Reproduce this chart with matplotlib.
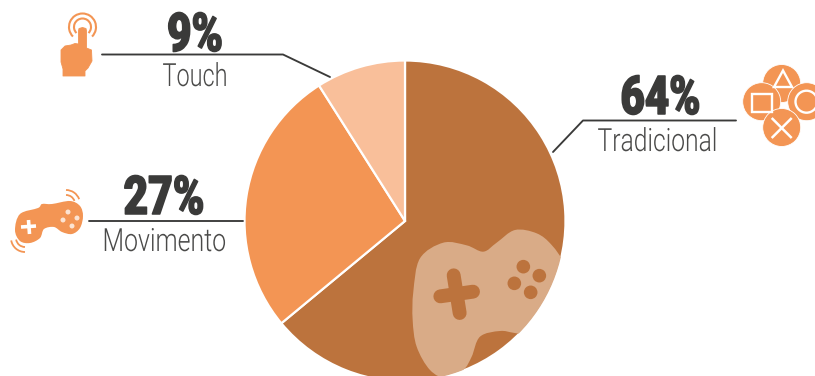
import numpy as np
import matplotlib
matplotlib.use("Agg")
import matplotlib.pyplot as plt
from matplotlib.path import Path
from matplotlib.patches import Circle, PathPatch, Polygon, Rectangle, Arc
from matplotlib.patheffects import AbstractPathEffect
from matplotlib.transforms import Affine2D

# Share of players per control type
categories = ["Tradicional", "Movimento", "Touch"]
shares = [64, 27, 9]
pct_labels = ["64%", "27%", "9%"]

DARK_BROWN = "#BC733D"
ORANGE = "#F39554"
PEACH = "#F9BF9A"
TAN = "#D9AB87"
INK = "#3A3A39"
WIDTH, HEIGHT = 815, 376
CX, CY, R = 405, 221, 160.5

plt.rcParams["font.family"] = ["Roboto", "DejaVu Sans"]

fig = plt.figure(figsize=(WIDTH / 100, HEIGHT / 100), dpi=100)
ax = fig.add_axes([0, 0, 1, 1])

# The y axis ends up inverted, so the pie runs counter-clockwise in data space
wedges, _ = ax.pie(
    shares, colors=[DARK_BROWN, ORANGE, PEACH], startangle=-90, counterclock=True,
    center=(CX, CY), radius=R,
    wedgeprops=dict(edgecolor="white", linewidth=1.6),
)
ax.set_xlim(0, WIDTH)
ax.set_ylim(HEIGHT, 0)
ax.set_aspect("equal")
ax.axis("off")


class Condense(AbstractPathEffect):
    """Squeeze glyph outlines horizontally about a display x, optionally thickening them."""

    def __init__(self, factor, center_x, embolden=0.0):
        super().__init__()
        self.factor = factor
        self.center_x = center_x
        self.embolden = embolden

    def draw_path(self, renderer, gc, tpath, affine, rgbFace=None):
        squeeze = Affine2D().translate(-self.center_x, 0).scale(self.factor, 1).translate(self.center_x, 0)
        gc0 = renderer.new_gc()
        gc0.copy_properties(gc)
        if self.embolden:
            gc0.set_foreground(rgbFace)
            gc0.set_linewidth(self.embolden)
        renderer.draw_path(gc0, tpath, affine + squeeze, rgbFace)
        gc0.restore()


def condensed_text(x, y, label, width, embolden=0.0, **kwargs):
    """Centred text narrowed so that it spans the requested width in pixels."""
    txt = ax.text(x, y, label, ha="center", va="baseline", **kwargs)
    natural = txt.get_window_extent(fig.canvas.get_renderer()).width
    center_x = ax.transData.transform((x, y))[0]
    txt.set_path_effects([Condense(width / natural, center_x, embolden)])
    return txt


def smooth_closed(points):
    """Closed Catmull-Rom outline through the given points, as cubic Bezier segments."""
    p = np.asarray(points, float)
    n = len(p)
    verts = [p[0]]
    codes = [Path.MOVETO]
    for i in range(n):
        p0, p1, p2, p3 = p[i - 1], p[i], p[(i + 1) % n], p[(i + 2) % n]
        verts += [p1 + (p2 - p0) / 6, p2 - (p3 - p1) / 6, p2]
        codes += [Path.CURVE4] * 3
    return Path(verts, codes)


def blob(points, color, zorder=4, clip=None):
    patch = PathPatch(smooth_closed(points), fc=color, ec="none", zorder=zorder)
    ax.add_patch(patch)
    if clip is not None:
        patch.set_clip_path(clip)
    return patch


def stroke(xs, ys, color=INK, lw=1.35, cap="round", zorder=5):
    ax.plot(xs, ys, color=color, lw=lw, solid_capstyle=cap, solid_joinstyle="round", zorder=zorder)


def local(pts):
    """Coordinates of the watermark artwork, drawn at one third scale from (400, 220)."""
    return [(400 + x / 3, 220 + y / 3) for x, y in pts]


# Large controller watermark, cut off by the edge of the pie
clip_circle = Circle((CX, CY), R - 0.5, transform=ax.transData)
big_pad = local([(40, 215), (60, 115), (130, 68), (200, 76), (250, 95), (290, 68), (345, 30),
                 (410, 40), (455, 75), (500, 140), (560, 260), (480, 360), (350, 340), (300, 333),
                 (240, 350), (215, 410), (190, 450), (140, 475), (90, 450), (50, 380), (38, 300)])
blob(big_pad, TAN, zorder=3, clip=clip_circle)
for a, b in [((121, 229), (219, 215)), ((161, 166), (179, 279))]:
    (x0, y0), (x1, y1) = local([a, b])
    stroke([x0, x1], [y0, y1], DARK_BROWN, lw=10)
for pos in local([(370, 140), (418, 167), (343, 190), (392, 217)]):
    ax.add_patch(Circle(pos, 6.8, fc=DARK_BROWN, ec="none", zorder=4))

# Leader lines
stroke([102, 283, 330], [54.5, 54.5, 77])
stroke([89, 243], [221, 221])
stroke([736, 583, 553], [120.5, 120.5, 152])

# Callout texts: value above the rule, category below it
pct_layout = {"Tradicional": (660.5, 114, 80), "Movimento": (164, 214, 81), "Touch": (195, 51, 56)}
name_layout = {"Tradicional": (657.5, 151, 120), "Movimento": (164.5, 251, 124), "Touch": (195, 86, 65)}
for name, pct in zip(categories, pct_labels):
    x, y, w = pct_layout[name]
    condensed_text(x, y, pct, w, embolden=1.1, fontsize=38.5, fontweight=900, color=INK)
    x, y, w = name_layout[name]
    condensed_text(x, y, name, w, fontsize=23, fontweight=300, color="#4A4A49")

# Touch icon: pointing hand with ripple rings
for r in (13.5, 8.5):
    ax.add_patch(Arc((82.5, 27), 2 * r, 2 * r, theta1=135, theta2=45, ec=ORANGE, lw=1.5, zorder=4))
hand = [(78.5, 31), (79, 28.5), (82.5, 27.5), (86, 28.5), (86.5, 31), (86.5, 48), (91.5, 50), (92, 61),
        (88, 68), (85, 71), (85, 76), (63, 76), (63, 69), (61, 62), (61, 50), (65, 46), (71, 45),
        (75, 43.5), (78.5, 44)]
ax.add_patch(Polygon(hand, closed=True, fc=ORANGE, ec=ORANGE, lw=0.6, joinstyle="round", zorder=4))

# Motion icon: tilted gamepad with vibration arcs
pad = [(15, 230), (20, 214), (38, 208), (42, 204), (52, 204), (70, 201), (80, 206), (83, 216), (80, 228),
       (72, 234), (62, 232), (54, 227), (44, 229), (40, 238), (30, 243), (20, 241)]
blob(pad, ORANGE)
stroke([21, 36], [227, 226], "white", lw=2.6, cap="butt")
stroke([28.5, 29.5], [220, 234], "white", lw=2.6, cap="butt")
for pos in [(68, 212), (77, 218), (63, 220), (72, 226)]:
    ax.add_patch(Circle(pos, 2.5, fc="#FCE3D2", ec="none", zorder=5))
for r in (9, 14):
    ax.add_patch(Arc((66, 204), 2 * r, 2 * r, theta1=-90, theta2=-20, ec=ORANGE, lw=1.3, zorder=4))
    ax.add_patch(Arc((25, 238), 2 * r, 2 * r, theta1=90, theta2=170, ec=ORANGE, lw=1.3, zorder=4))

# Classic controls icon: four action buttons
for pos in [(781.7, 83.5), (761.7, 101.7), (806.7, 101.7), (781.7, 127.5)]:
    ax.add_patch(Circle(pos, 19, fc=ORANGE, ec="white", lw=0.6, zorder=4))
ax.add_patch(Polygon([(783, 70.5), (774, 87), (792, 87)], closed=True, fc="none", ec="white", lw=1.7, zorder=5))
ax.add_patch(Rectangle((752, 94), 20, 18, fc=ORANGE, ec="white", lw=1.7, zorder=5))
ax.add_patch(Circle((806.5, 101.7), 11, fc="none", ec="white", lw=1.7, zorder=5))
stroke([771.7, 791.7], [118, 138], "white", lw=1.8, cap="butt")
stroke([771.7, 791.7], [138, 118], "white", lw=1.8, cap="butt")

fig.savefig("out.png", dpi=100, facecolor="white")
